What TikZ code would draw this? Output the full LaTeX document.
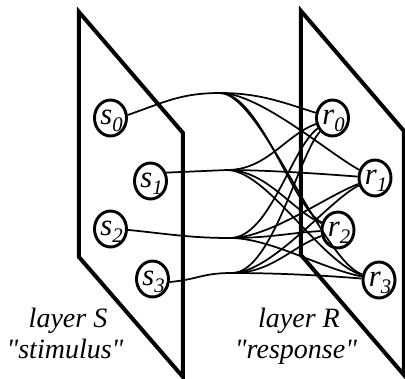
\documentclass[tikz,border=0pt]{standalone}
\usepackage{fontspec}
\setmainfont{Liberation Serif}[Ligatures=TeXOff]
\usetikzlibrary{shapes.geometric}
\newcommand\nlab[2]{\smash{\makebox[0pt]{\hspace{1.5pt}\raisebox{-5pt}{\fontsize{23}{23}\selectfont\itshape #1\raisebox{-5pt}{\fontsize{15.5}{15.5}\selectfont #2}}}}}
\tikzset{
 neuron/.style={ellipse, draw, line width=2.2pt, fill=white, minimum width=24pt, minimum height=27pt, inner sep=0pt},
 plane/.style={draw, line width=3pt, miter limit=10},
 link/.style={draw, line width=1.3pt},
 caption/.style={font=\fontsize{21}{23}\selectfont\itshape, anchor=base, inner sep=0pt},
}
\begin{document}
\begin{tikzpicture}[x=0.75pt,y=-0.75pt]
\useasboundingbox (0,0) rectangle (405,379);
% neurons
\node[neuron] (s0) at (110.5,118) {\nlab{s}{0}};
\node[neuron] (s1) at (150.5,181) {\nlab{s}{1}};
\node[neuron] (s2) at (110.5,229) {\nlab{s}{2}};
\node[neuron] (s3) at (152.5,279) {\nlab{s}{3}};
\node[neuron] (r0) at (332.5,118) {\nlab{r}{0}};
\node[neuron] (r1) at (375,178) {\nlab{r}{1}};
\node[neuron] (r2) at (338,230) {\nlab{r}{2}};
\node[neuron] (r3) at (379,280) {\nlab{r}{3}};
% fan points
\coordinate (f0) at (220,93);
\coordinate (f1) at (227,170);
\coordinate (f2) at (230,238);
\coordinate (f3) at (232,273);
% stimulus to fan
\draw[link] (s0.10) .. controls +(35,-12) and +(-40,0) .. (f0);
\draw[link] (s1.28) -- (f1);
\draw[link] (s2.-3) .. controls +(40,4) and +(-40,0) .. (f2);
\draw[link] (s3.-10) .. controls +(30,-3) and +(-30,0) .. (f3);
% fan to responses
\draw[link] (f0) .. controls +(40,0) and +(-48,-15) .. (r0);
\draw[link] (f1) .. controls +(40,0) and +(-47,17) .. (r0);
\draw[link] (f2) .. controls +(40,0) and +(-41,29) .. (r0);
\draw[link] (f3) .. controls +(40,0) and +(-34,37) .. (r0);
\draw[link] (f0) .. controls +(40,0) and +(-44,-23) .. (r1);
\draw[link] (f1) .. controls +(40,0) and +(-50,-4) .. (r1);
\draw[link] (f2) .. controls +(40,0) and +(-47,17) .. (r1);
\draw[link] (f3) .. controls +(40,0) and +(-45,21) .. (r1);
\draw[link] (f0) .. controls +(40,0) and +(-45,-21) .. (r2);
\draw[link] (f1) .. controls +(40,0) and +(-46,-19) .. (r2);
\draw[link] (f2) .. controls +(40,0) and +(-50,3) .. (r2);
\draw[link] (f3) .. controls +(40,0) and +(-47,17) .. (r2);
\draw[link] (f0) .. controls +(40,0) and +(-57,-19) .. (r3);
\draw[link] (f1) .. controls +(40,0) and +(-58,-17) .. (r3);
\draw[link] (f2) .. controls +(40,0) and +(-59,-12) .. (r3);
\draw[link] (f3) .. controls +(40,0) and +(-60,-5) .. (r3);
% planes
\draw[plane] (79,12) -- (183,133) -- (183,377) -- (79,257) -- cycle;
\draw[plane] (301,11) -- (404,131) -- (404,375) -- (301,255) -- cycle;
% captions
\node[caption] (capS1) at (68,327) {layer S};
\node[caption] (capS2) at (65,358) {"stimulus"};
\node[caption] (capR1) at (299,327) {layer R};
\node[caption] (capR2) at (296,358) {"response"};
\end{tikzpicture}
\end{document}
